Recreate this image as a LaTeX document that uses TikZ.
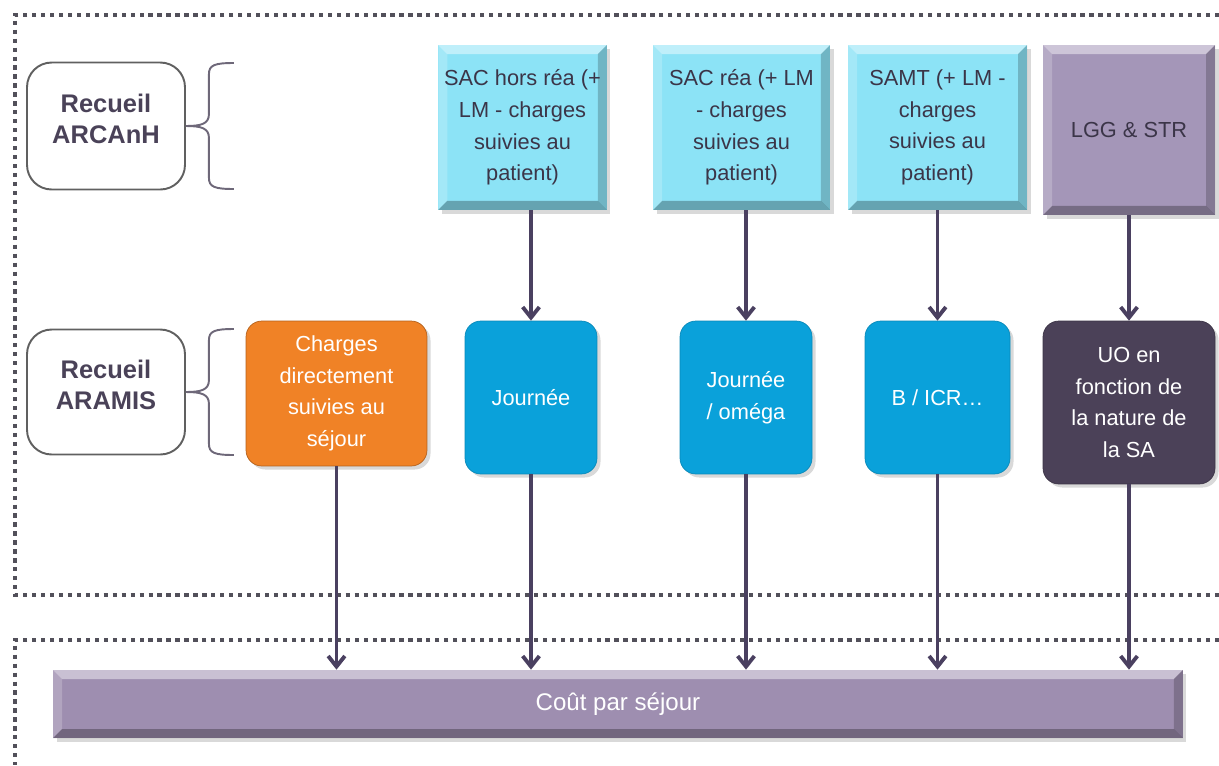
\documentclass[tikz,border=0pt]{standalone}
\usepackage{fontspec}
\setmainfont{Liberation Sans}
\usepackage{tikz}
\usetikzlibrary{arrows.meta}
\usetikzlibrary{shadows}

\definecolor{inkc}{HTML}{3B3548}
\definecolor{arrowc}{HTML}{4A4060}
\definecolor{framec}{HTML}{52505A}
\definecolor{cyanc}{HTML}{8CE3F6}
\definecolor{lilac}{HTML}{A496B8}
\definecolor{barc}{HTML}{9E8EB0}
\definecolor{orangec}{HTML}{F08226}
\definecolor{bluec}{HTML}{0AA1DA}
\definecolor{plumc}{HTML}{4B4158}
\definecolor{labelc}{HTML}{4A4258}

\begin{document}
\begin{tikzpicture}[x=0.02cm, y=-0.02cm]
    \tikzset{every node/.style={align=center, font=\fontsize{12.4}{18}\selectfont},
            >={Straight Barb[length=6pt,width=9.5pt]},
            every edge/.style={draw=arrowc, line width=2.2pt},
            frame/.style={draw=framec, line width=2pt, dash pattern=on 2.4pt off 2.7pt},
            brace/.style={draw=labelc!80, line width=1.1pt},
            recueil/.style={draw=gray!75!black, line width=1.1pt, rounded corners=14pt,
                font=\bfseries\fontsize{14.5}{17.6}\selectfont, text=labelc},
            bevel/.style={drop shadow={opacity=0.3, shadow xshift=2pt, shadow yshift=-2pt},
                path picture={
                \path (path picture bounding box.north west) coordinate (bnw)
                      (path picture bounding box.north east) coordinate (bne)
                      (path picture bounding box.south west) coordinate (bsw)
                      (path picture bounding box.south east) coordinate (bse);
                \fill[white, opacity=.45] (bnw) -- (bne) -- ([shift={(-9,9)}]bne) -- ([shift={(9,9)}]bnw) -- cycle;
                \fill[white, opacity=.2] (bnw) -- ([shift={(9,9)}]bnw) -- ([shift={(9,-9)}]bsw) -- (bsw) -- cycle;
                \fill[black, opacity=.2] (bne) -- (bse) -- ([shift={(-9,-9)}]bse) -- ([shift={(-9,9)}]bne) -- cycle;
                \fill[black, opacity=.28] (bsw) -- (bse) -- ([shift={(-9,-9)}]bse) -- ([shift={(9,-9)}]bsw) -- cycle;}},
            unit/.style={rounded corners=9pt, text=white,
                drop shadow={opacity=0.3, shadow xshift=2pt, shadow yshift=-2pt}}}
    \useasboundingbox (0,0) rectangle (1219,765);

    % dotted frames
    \draw[frame] (1219,15) -- (15,15) -- (15,595) -- (1219,595);
    \draw[frame] (1219,640) -- (15,640) -- (15,765);

    % collections
    \node[recueil, minimum width=3.16cm, minimum height=2.54cm] (arcanh) at (106,126) {Recueil\\ARCAnH\\[-9pt]};
    \node[recueil, minimum width=3.16cm, minimum height=2.5cm] (aramis) at (106,392) {Recueil\\ARAMIS\\[-9pt]};
    \foreach \n in {arcanh, aramis} {
        \draw[brace] (\n.east) .. controls +(15,0) and +(0,10) .. ([shift={(23,-12)}]\n.east)
            -- ([shift={(23,-52)}]\n.east) .. controls +(0,-9) and +(-19,0) .. ([shift={(48,-63)}]\n.east);
        \draw[brace] (\n.east) .. controls +(15,0) and +(0,-10) .. ([shift={(23,12)}]\n.east)
            -- ([shift={(23,52)}]\n.east) .. controls +(0,9) and +(-19,0) .. ([shift={(48,63)}]\n.east);
    }

    % sections
    \node[bevel, fill=cyanc, text=inkc, minimum width=3.3cm, minimum height=3.3cm] (sachors) at (522.5,127.5) {SAC hors réa (+\\LM - charges\\suivies au\\patient)};
    \node[bevel, fill=cyanc, text=inkc, minimum width=3.54cm, minimum height=3.3cm] (sacrea) at (741.5,127.5) {SAC réa (+ LM\\- charges\\suivies au\\patient)};
    \node[bevel, fill=cyanc, text=inkc, minimum width=3.58cm, minimum height=3.3cm] (samt) at (937.5,127.5) {SAMT (+ LM -\\charges\\suivies au\\patient)};
    \node[bevel, fill=lilac, text=inkc, minimum width=3.44cm, minimum height=3.4cm] (lgg) at (1129,130) {LGG \& STR};

    % work units
    \node[unit, fill=orangec, draw=orangec!75!black, minimum width=3.62cm, minimum height=2.9cm] (charges) at (336.5,393.5) {Charges\\directement\\suivies au\\séjour};
    \node[unit, fill=bluec, draw=bluec!85!black, minimum width=2.64cm, minimum height=3.06cm] (journee) at (531,397.5) {Journée};
    \node[unit, fill=bluec, draw=bluec!85!black, minimum width=2.64cm, minimum height=3.06cm] (omega) at (746,397.5) {Journée\\/ oméga};
    \node[unit, fill=bluec, draw=bluec!85!black, minimum width=2.9cm, minimum height=3.06cm] (bicr) at (937.5,397.5) {B / ICR…};
    \node[unit, fill=plumc, draw=plumc!80!black, minimum width=3.44cm, minimum height=3.26cm] (uo) at (1129,402.5) {UO en\\fonction de\\la nature de\\la SA};

    \node[bevel, fill=barc, text=white, font=\fontsize{13.7}{16}\selectfont, minimum width=22.6cm, minimum height=1.36cm] (cout) at (618,704) {Coût par séjour};

    \path [->] (sachors.south -| journee) edge (journee);
    \path [->] (sacrea.south -| omega) edge (omega);
    \path [->] (samt.south -| bicr) edge (bicr);
    \path [->] (lgg.south -| uo) edge (uo);

    \foreach \u in {charges, journee, omega, bicr, uo}
        \path [->] (\u) edge (\u |- cout.north);
\end{tikzpicture}
\end{document}
